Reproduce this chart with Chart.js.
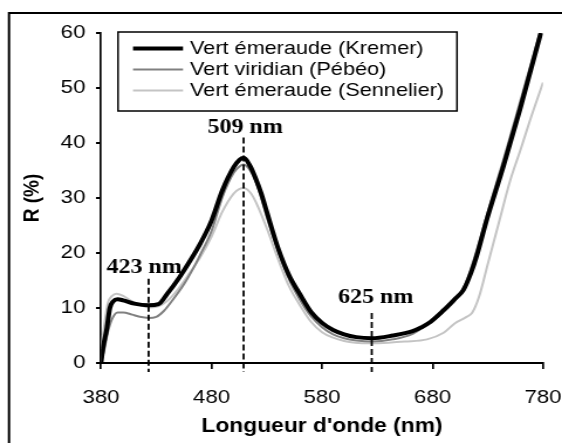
<!DOCTYPE html>
<html>
<head>
<meta charset="utf-8">
<script src="https://cdn.jsdelivr.net/npm/chart.js@4"></script>
<style>
  html, body { margin: 0; padding: 0; background: #fff; overflow: hidden; }
  /* la figure d'origine est étirée horizontalement */
  #chart { transform: scaleX(1.17083); transform-origin: 0 0; }
</style>
</head>
<body>
<canvas id="chart" width="480" height="443"></canvas>
<script>
'use strict';
// valeurs
const nmKremer = [380, 382, 385, 388, 391, 395, 400, 410, 423, 432, 440, 451, 460, 470, 480, 490, 500, 505, 509, 515, 520, 525, 530, 540, 550, 560, 570, 580, 590, 600, 611, 625, 644, 662, 670, 677, 690, 700, 708, 715, 720, 729, 744, 759, 778];
const rKremer = [0, 3, 6, 10, 11.2, 11.6, 11.4, 10.8, 10.5, 10.7, 12.6, 15.6, 18.4, 21.8, 25.9, 31.5, 35.6, 36.9, 37.3, 35.8, 33.5, 30.8, 27.5, 21, 16, 12.5, 9.3, 7.3, 6, 5.2, 4.7, 4.5, 5, 5.8, 6.5, 7.3, 9.6, 11.6, 13.3, 16.5, 19.5, 26, 35.7, 46, 60];

const nmPebeo = [380, 383, 386, 390, 395, 400, 408, 415, 423, 430, 437, 445, 455, 465, 470, 480, 490, 500, 505, 509, 515, 520, 525, 530, 540, 550, 560, 570, 580, 590, 600, 611, 625, 644, 662, 675, 690, 702, 710, 720, 730, 745, 760, 777];
const rPebeo = [0.3, 2.5, 5.5, 8, 9.2, 9.2, 8.8, 8.4, 8.2, 8.4, 9.5, 11.5, 14.3, 17.8, 19.8, 24, 30.3, 34.6, 35.7, 36.1, 35, 33, 30, 26.5, 20.5, 15.3, 11.5, 8.5, 6.5, 5.2, 4.5, 4.1, 3.9, 4.3, 5.3, 7, 9.3, 11.8, 14.5, 20.5, 27.5, 37.5, 48, 60];

const nmSennelier = [380, 383, 386, 390, 394, 400, 408, 415, 423, 430, 440, 450, 460, 470, 480, 490, 500, 505, 509, 515, 520, 530, 540, 550, 560, 570, 580, 590, 600, 610, 625, 640, 655, 675, 690, 700, 710, 716, 722, 730, 740, 750, 760, 768, 780];
const rSennelier = [2.5, 7, 10.8, 12.2, 12.6, 12.2, 11.2, 10.6, 10.1, 10.2, 11.3, 13.5, 16.3, 19.3, 23, 27.6, 30.8, 31.6, 31.8, 31, 29.3, 24.5, 19, 14, 10.5, 7.5, 5.6, 4.6, 4, 3.7, 3.6, 3.7, 3.9, 4.3, 5.5, 7.2, 8.3, 9.2, 12, 18, 25.5, 33, 39, 44, 51];

const xTicks = [380, 480, 580, 680, 780];
const yTicks = [0, 10, 20, 30, 40, 50, 60];

const markerNm = [423, 509, 625];
const markerLabels = ['423 nm', '509 nm', '625 nm'];

// placement des repères (en unités de R, décalage en px)
const markerTop = [15.3, 41, 9.1];
const labelLevel = [16.3, 41.8, 10.9];
const labelShift = [-3.8, 1.3, 3.4];

const toPoints = (xs, ys) => xs.map((v, i) => ({ x: v, y: ys[i] }));
const sans = '"Liberation Sans", Arial, sans-serif';

const decor = {
    id: 'decor',
    beforeDraw(chart) {
        const ctx = chart.ctx;
        ctx.save();
        ctx.strokeStyle = '#000';
        ctx.lineWidth = 2;
        ctx.strokeRect(7.7, 13, chart.width + 20, chart.height + 20);
        ctx.restore();
    },
    afterDatasetsDraw(chart) {
        const { ctx, scales: { x, y } } = chart;
        ctx.save();
        // lignes pointillées
        ctx.strokeStyle = '#000';
        ctx.lineWidth = 1.8;
        ctx.setLineDash([6, 3]);
        markerNm.forEach((nm, i) => {
            const px = x.getPixelForValue(nm);
            ctx.beginPath();
            ctx.moveTo(px, y.getPixelForValue(markerTop[i]));
            ctx.lineTo(px, y.bottom + 9);
            ctx.stroke();
        });
        ctx.setLineDash([]);
        ctx.fillStyle = '#000';
        ctx.font = 'bold 20.5px "Liberation Serif", "Times New Roman", serif';
        ctx.textAlign = 'center';
        ctx.textBaseline = 'alphabetic';
        markerNm.forEach((nm, i) => {
            ctx.fillText(markerLabels[i], x.getPixelForValue(nm) + labelShift[i], y.getPixelForValue(labelLevel[i]));
        });

        // légende encadrée
        ctx.fillStyle = '#fff';
        ctx.fillRect(100.8, 32, 289.5, 79);
        ctx.lineWidth = 1.5;
        ctx.strokeRect(100.8, 32, 289.5, 79);
        ctx.font = '18.5px ' + sans;
        ctx.textAlign = 'left';
        ctx.textBaseline = 'middle';
        chart.data.datasets.forEach((ds, i) => {
            const rowY = 48.5 + 21 * i;
            ctx.strokeStyle = ds.borderColor;
            ctx.lineWidth = ds.borderWidth;
            ctx.beginPath();
            ctx.moveTo(113.6, rowY);
            ctx.lineTo(156.3, rowY);
            ctx.stroke();
            ctx.fillStyle = '#000';
            ctx.fillText(ds.label, 162.3, rowY + 0.8);
        });
        ctx.restore();
    }
};

new Chart(document.getElementById('chart'), {
    type: 'line',
    data: {
        datasets: [
            { label: 'Vert émeraude (Kremer)', data: toPoints(nmKremer, rKremer), borderColor: '#000000', borderWidth: 4 },
            { label: 'Vert viridian (Pébéo)', data: toPoints(nmPebeo, rPebeo), borderColor: '#808080', borderWidth: 2 },
            { label: 'Vert émeraude (Sennelier)', data: toPoints(nmSennelier, rSennelier), borderColor: '#c4c4c4', borderWidth: 2 }
        ]
    },
    options: {
        responsive: false,
        animation: false,
        elements: {
            point: { radius: 0 },
            line: { cubicInterpolationMode: 'monotone' }
        },
        layout: { padding: { top: 33, right: 16.2, bottom: 0, left: 0 } },
        plugins: {
            legend: { display: false },
            tooltip: { enabled: false }
        },
        scales: {
            x: {
                type: 'linear',
                min: 380,
                max: 780,
                afterFit: s => { s.height = 80; s.paddingLeft = 0; s.paddingRight = 0; },
                afterBuildTicks: s => { s.ticks = xTicks.map(v => ({ value: v })); },
                grid: { drawOnChartArea: false, drawTicks: true, tickLength: 6, color: '#000', lineWidth: 1.7 },
                border: { color: '#000', width: 2 },
                ticks: { color: '#000', font: { family: sans, size: 19 }, padding: 17, maxRotation: 0 },
                title: {
                    display: true,
                    text: "Longueur d'onde (nm)",
                    color: '#000',
                    font: { family: sans, size: 19.5, weight: 'bold' },
                    padding: { top: 0, bottom: 4.5 }
                }
            },
            y: {
                min: 0,
                max: 60,
                afterFit: s => { s.width = 86.3; s.paddingTop = 0; s.paddingBottom = 0; },
                afterBuildTicks: s => { s.ticks = yTicks.map(v => ({ value: v })); },
                grid: { drawOnChartArea: false, drawTicks: true, tickLength: 4.3, color: '#000', lineWidth: 2 },
                border: { color: '#000', width: 1.7 },
                ticks: { color: '#000', font: { family: sans, size: 19 }, padding: 9 },
                title: {
                    display: true,
                    text: 'R (%)',
                    color: '#000',
                    font: { family: sans, size: 19, weight: 'bold' },
                    padding: { top: 16.6, bottom: 0 }
                }
            }
        }
    },
    plugins: [decor]
});
</script>
</body>
</html>
